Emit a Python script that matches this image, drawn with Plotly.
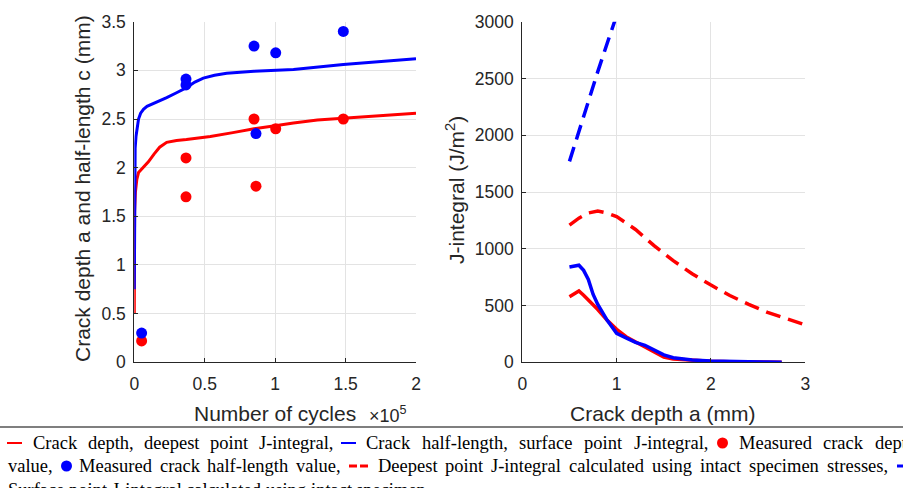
import plotly.graph_objects as go

# ---------------- data ----------------
# Left panel: crack growth vs cycles (cycles in units of 1e5)
cyc_a = [0, 0.001, 0.002, 0.008, 0.018, 0.03, 0.05, 0.08, 0.1, 0.14, 0.18, 0.23, 0.3, 0.37,
         0.54, 0.7, 0.85, 1.0, 1.13, 1.3, 1.484, 1.7, 2.0]
depth_a = [0.5, 1.0, 1.55, 1.75, 1.88, 1.95, 1.98, 2.03, 2.06, 2.14, 2.21, 2.26, 2.28, 2.29,
           2.32, 2.36, 2.40, 2.43, 2.46, 2.49, 2.51, 2.53, 2.56]

cyc_c = [0, 0.001, 0.003, 0.006, 0.012, 0.02, 0.03, 0.045, 0.065, 0.09, 0.123, 0.17, 0.23, 0.3,
         0.367, 0.43, 0.49, 0.57, 0.656, 0.85, 1.13, 1.484, 2.0]
half_c = [0.75, 1.5, 2.0, 2.2, 2.32, 2.42, 2.5, 2.56, 2.6, 2.63, 2.65, 2.68, 2.72, 2.77,
          2.82, 2.88, 2.92, 2.95, 2.97, 2.99, 3.01, 3.06, 3.12]

meas_cyc_a = [0.052, 0.367, 0.367, 0.85, 0.864, 1.004, 1.484]
meas_a = [0.22, 2.10, 1.70, 2.50, 1.81, 2.40, 2.50]

meas_cyc_c = [0.052, 0.367, 0.367, 0.85, 0.864, 1.004, 1.484]
meas_c = [0.30, 2.91, 2.85, 3.25, 2.35, 3.18, 3.40]

# Right panel: J-integral vs crack depth
a_j = [0.5, 0.55, 0.6, 0.65, 0.7, 0.75, 0.8, 0.9, 1.0, 1.1, 1.2, 1.3, 1.4, 1.5, 1.6, 1.7,
       1.8, 2.0, 2.2, 2.4, 2.6, 2.75]
J_deep = [578, 605, 628, 590, 550, 505, 465, 370, 290, 225, 180, 130, 88, 45, 28, 22,
          18, 10, 5, 3, 2, 1]
J_surf = [840, 848, 855, 810, 730, 600, 510, 370, 255, 215, 175, 150, 105, 65, 40, 28,
          20, 12, 6, 4, 2, 1]

a_intact_deep = [0.5, 0.6, 0.7, 0.8, 0.9, 1.0, 1.2, 1.4, 1.6, 1.8, 2.0, 2.2, 2.4, 2.6, 2.8, 3.0]
J_intact_deep = [1209, 1270, 1315, 1333, 1315, 1283, 1170, 1025, 895, 780, 680, 588, 510, 440, 385, 330]

a_intact_surf = [0.5, 0.6, 0.7, 0.8, 0.9, 1.0, 1.1]
J_intact_surf = [1770, 2040, 2300, 2560, 2810, 3060, 3300]

left_xticks = [0, 0.5, 1, 1.5, 2]
left_xticklabels = ["0", "0.5", "1", "1.5", "2"]
left_yticks = [0, 0.5, 1, 1.5, 2, 2.5, 3, 3.5]
left_yticklabels = ["0", "0.5", "1", "1.5", "2", "2.5", "3", "3.5"]
right_xticks = [0, 1, 2, 3]
right_yticks = [0, 500, 1000, 1500, 2000, 2500, 3000]

caption_segments = [
    "Crack depth, deepest point J-integral,",
    "Crack half-length, surface point J-integral,",
    "Measured crack depth",
    "value,",
    "Measured crack half-length value,",
    "Deepest point J-integral calculated using intact specimen stresses,",
    "Surface point J-integral calculated using intact specimen",
]

RED = "#ff0000"
BLUE = "#0000ff"
AX = "#262626"
GRID = "#e3e3e3"
W, H = 903, 488


def px(x):
    return x / W


def py(y):
    return 1 - y / H


fig = go.Figure()

# left panel
fig.add_trace(go.Scatter(x=cyc_a, y=depth_a, mode="lines", line=dict(color=RED, width=3),
                         xaxis="x", yaxis="y"))
fig.add_trace(go.Scatter(x=cyc_c, y=half_c, mode="lines", line=dict(color=BLUE, width=3),
                         xaxis="x", yaxis="y"))
fig.add_trace(go.Scatter(x=meas_cyc_a, y=meas_a, mode="markers",
                         marker=dict(color=RED, size=11, line=dict(width=0)),
                         xaxis="x", yaxis="y", cliponaxis=False))
fig.add_trace(go.Scatter(x=meas_cyc_c, y=meas_c, mode="markers",
                         marker=dict(color=BLUE, size=11, line=dict(width=0)),
                         xaxis="x", yaxis="y", cliponaxis=False))

# right panel
fig.add_trace(go.Scatter(x=a_j, y=J_deep, mode="lines", line=dict(color=RED, width=3.5),
                         xaxis="x2", yaxis="y2"))
fig.add_trace(go.Scatter(x=a_j, y=J_surf, mode="lines", line=dict(color=BLUE, width=3.5),
                         xaxis="x2", yaxis="y2"))
fig.add_trace(go.Scatter(x=a_intact_deep, y=J_intact_deep, mode="lines",
                         line=dict(color=RED, width=3.5, dash="15px,8px"),
                         xaxis="x2", yaxis="y2"))
fig.add_trace(go.Scatter(x=a_intact_surf, y=J_intact_surf, mode="lines",
                         line=dict(color=BLUE, width=3.5, dash="15px,8px"),
                         xaxis="x2", yaxis="y2"))

tickfont = dict(family="Liberation Sans, Arial", size=17.5, color=AX)
common = dict(showline=True, linecolor=AX, linewidth=1, ticks="inside", ticklen=4,
              tickcolor=AX, showgrid=True, gridcolor=GRID, gridwidth=1, zeroline=False,
              tickfont=tickfont, mirror=False, fixedrange=True)

y_dom = [py(362.3), py(21.7)]
fig.update_layout(
    width=W, height=H,
    margin=dict(l=0, r=0, t=0, b=0, pad=0, autoexpand=False),
    paper_bgcolor="white", plot_bgcolor="white",
    showlegend=False,
    xaxis=dict(domain=[px(134.3), px(416)], range=[0, 2], tickvals=left_xticks,
               ticktext=left_xticklabels, anchor="y", ticklabelstandoff=6, **common),
    yaxis=dict(domain=y_dom, range=[0, 3.5], tickvals=left_yticks,
               ticktext=left_yticklabels, anchor="x", ticklabelstandoff=4, **common),
    xaxis2=dict(domain=[px(522.3), px(805.3)], range=[0, 3], tickvals=right_xticks,
                anchor="y2", ticklabelstandoff=6, **common),
    yaxis2=dict(domain=y_dom, range=[0, 3000], tickvals=right_yticks, anchor="x2",
                ticklabelstandoff=4, **common),
)

titlefont = dict(family="Liberation Sans, Arial", size=21, color=AX)
annotations = [
    dict(text="Number of cycles", x=px(275), y=py(413), xref="paper", yref="paper",
         xanchor="center", yanchor="middle", showarrow=False, font=titlefont),
    dict(text="\u00d710<sup>5</sup>", x=px(367), y=py(414), xref="paper", yref="paper",
         xanchor="left", yanchor="middle", showarrow=False,
         font=dict(family="Liberation Sans, Arial", size=18, color=AX)),
    dict(text="Crack depth a (mm)", x=px(663), y=py(413), xref="paper", yref="paper",
         xanchor="center", yanchor="middle", showarrow=False, font=titlefont),
    dict(text="Crack depth a and half-length c (mm)", x=px(82), y=py(189), xref="paper",
         yref="paper", xanchor="center", yanchor="middle", textangle=-90, showarrow=False,
         font=titlefont),
    dict(text="J-integral (J/m<sup>2</sup>)", x=px(455), y=py(190), xref="paper",
         yref="paper", xanchor="center", yanchor="middle", textangle=-90, showarrow=False,
         font=titlefont),
]

# ---- caption (justified, Times metrics) ----
CAP_FS = 18.5
TIMES_W = {
    ' ': 250, ',': 250, '-': 333, '.': 250,
    'C': 667, 'D': 722, 'J': 389, 'M': 889, 'S': 556,
    'a': 444, 'b': 500, 'c': 444, 'd': 500, 'e': 444, 'f': 333, 'g': 500, 'h': 500,
    'i': 278, 'j': 278, 'k': 500, 'l': 278, 'm': 778, 'n': 500, 'o': 500, 'p': 500,
    'q': 500, 'r': 333, 's': 389, 't': 278, 'u': 500, 'v': 500, 'w': 722, 'x': 500,
    'y': 500, 'z': 444,
}


def wwidth(word):
    return sum(TIMES_W.get(ch, 500) for ch in word) * CAP_FS / 1000.0


capfont = dict(family="Liberation Serif, Times New Roman", size=CAP_FS, color="black")


def place_words(text, x_start, y_center, x_end=None, gap=None):
    words = text.split(" ")
    widths = [wwidth(w) for w in words]
    if gap is None:
        if x_end is not None and len(words) > 1:
            gap = (x_end - x_start - sum(widths)) / (len(words) - 1)
        else:
            gap = TIMES_W[' '] * CAP_FS / 1000.0
    x = x_start
    for w, wd in zip(words, widths):
        annotations.append(dict(text=w, x=px(x), y=py(y_center), xref="paper",
                                yref="paper", xanchor="left", yanchor="middle",
                                showarrow=False, font=capfont, borderpad=0))
        x += wd + gap
    return gap


L1, L2, L3 = 443, 466, 490
place_words(caption_segments[0], 32, L1, 332)
g = place_words(caption_segments[1], 365, L1, 707)
place_words(caption_segments[2], 738, L1, gap=g)
place_words(caption_segments[3], 7, L2, gap=6)
place_words(caption_segments[4], 78, L2, 340)
place_words(caption_segments[5], 377, L2, 887)
place_words(caption_segments[6], 7, L3)

fig.update_layout(annotations=annotations)

# separator and caption glyphs
shapes = [
    dict(type="line", xref="paper", yref="paper", x0=0, x1=1, y0=py(427), y1=py(427),
         line=dict(color="#555555", width=1.5)),
    dict(type="line", xref="paper", yref="paper", x0=px(7), x1=px(22), y0=py(443), y1=py(443),
         line=dict(color=RED, width=2)),
    dict(type="line", xref="paper", yref="paper", x0=px(341), x1=px(356), y0=py(443),
         y1=py(443), line=dict(color=BLUE, width=2)),
    dict(type="circle", xref="paper", yref="paper", x0=px(717), x1=px(728), y0=py(448.5),
         y1=py(437.5), fillcolor=RED, line=dict(width=0)),
    dict(type="circle", xref="paper", yref="paper", x0=px(61), x1=px(72), y0=py(471.5),
         y1=py(460.5), fillcolor=BLUE, line=dict(width=0)),
    dict(type="line", xref="paper", yref="paper", x0=px(349), x1=px(357), y0=py(466),
         y1=py(466), line=dict(color=RED, width=3)),
    dict(type="line", xref="paper", yref="paper", x0=px(360), x1=px(368), y0=py(466),
         y1=py(466), line=dict(color=RED, width=3)),
    dict(type="line", xref="paper", yref="paper", x0=px(897), x1=px(905), y0=py(466),
         y1=py(466), line=dict(color=BLUE, width=3)),
]
fig.update_layout(shapes=shapes)

fig.write_html("out.html")
